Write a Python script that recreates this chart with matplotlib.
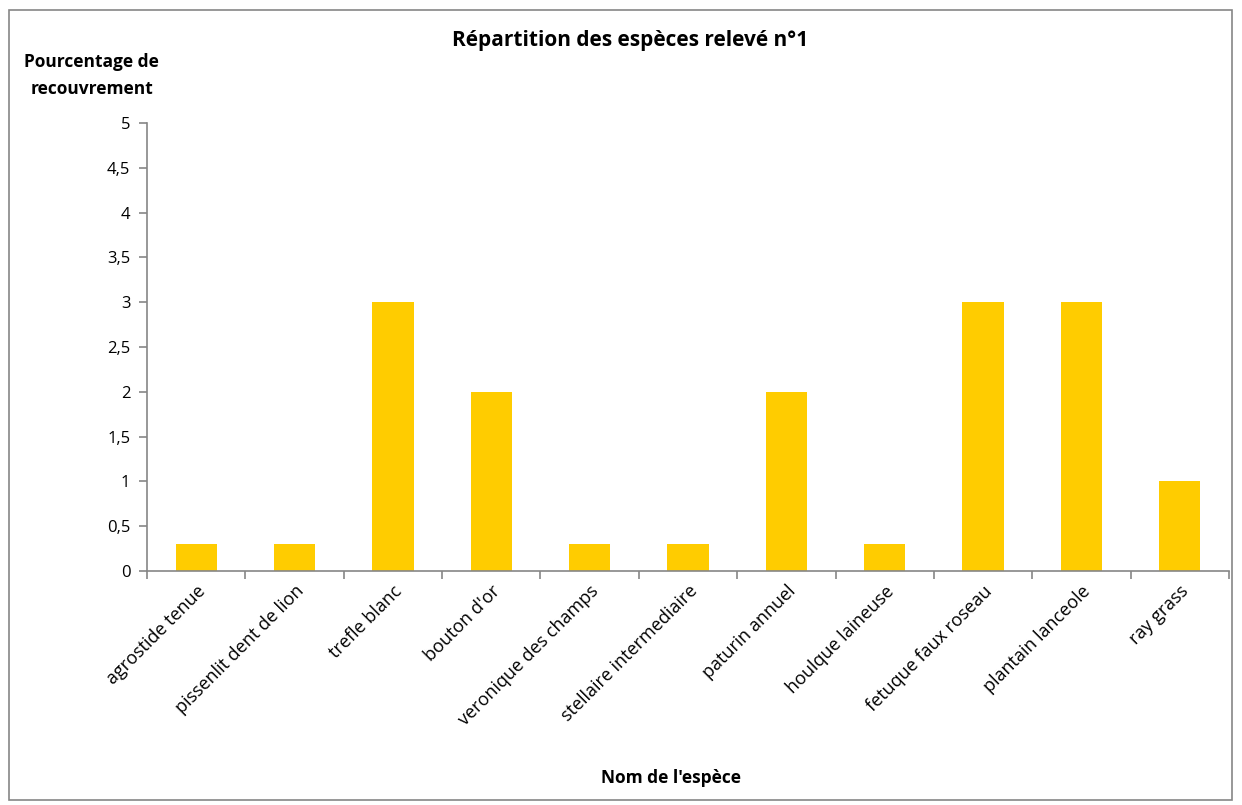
import matplotlib.pyplot as plt
import numpy as np
from matplotlib.patches import Rectangle
from matplotlib.ticker import FuncFormatter, FixedLocator

especes = ["agrostide tenue", "pissenlit dent de lion", "trefle blanc", "bouton d'or",
           "veronique des champs", "stellaire intermediaire", "paturin annuel",
           "houlque laineuse", "fetuque faux roseau", "plantain lanceole", "ray grass"]
recouvrement = [0.3, 0.3, 3, 2, 0.3, 0.3, 2, 0.3, 3, 3, 1]
yticks = [0, 0.5, 1, 1.5, 2, 2.5, 3, 3.5, 4, 4.5, 5]

plt.rcParams['font.family'] = ['Open Sans', 'DejaVu Sans']

fig = plt.figure(figsize=(12.42, 8.05), dpi=100)
ax = fig.add_axes([0.1184, 0.2907, 0.8711, 0.5565])

x = np.arange(len(especes))
ax.bar(x, recouvrement, width=0.42, color='#FFCC00')

ax.set_xlim(-0.5, len(especes) - 0.5)
ax.set_ylim(0, 5)
ax.set_yticks(yticks)
ax.yaxis.set_major_formatter(FuncFormatter(lambda v, p: ('%g' % v).replace('.', ',')))

ax.set_xticks(x)
ax.set_xticklabels(especes, rotation=45, ha='right', rotation_mode='anchor', fontsize=13)
ax.tick_params(axis='x', which='major', length=0, pad=8)
ax.xaxis.set_minor_locator(FixedLocator(np.arange(-0.5, len(especes), 1)))
ax.tick_params(axis='x', which='minor', length=6, color='#868686', width=1.2)
ax.tick_params(axis='y', length=6, color='#868686', width=1.2, labelsize=12, pad=6)

for s in ['top', 'right']:
    ax.spines[s].set_visible(False)
for s in ['left', 'bottom']:
    ax.spines[s].set_color('#868686')
    ax.spines[s].set_linewidth(1.2)

fig.text(0.507, 0.950, "Répartition des espèces relevé n°1", ha='center', va='center',
         fontsize=15, fontweight='bold')
fig.text(0.074, 0.923, "Pourcentage de", ha='center', va='center', fontsize=12.5, fontweight='bold')
fig.text(0.074, 0.890, "recouvrement", ha='center', va='center', fontsize=12.5, fontweight='bold')
fig.text(0.540, 0.034, "Nom de l'espèce", ha='center', va='center', fontsize=12.5, fontweight='bold')

fig.patches.append(Rectangle((0.007, 0.006), 0.985, 0.981, transform=fig.transFigure,
                             fill=False, edgecolor='#868686', linewidth=1.2))

fig.savefig('out.png', dpi=100)
